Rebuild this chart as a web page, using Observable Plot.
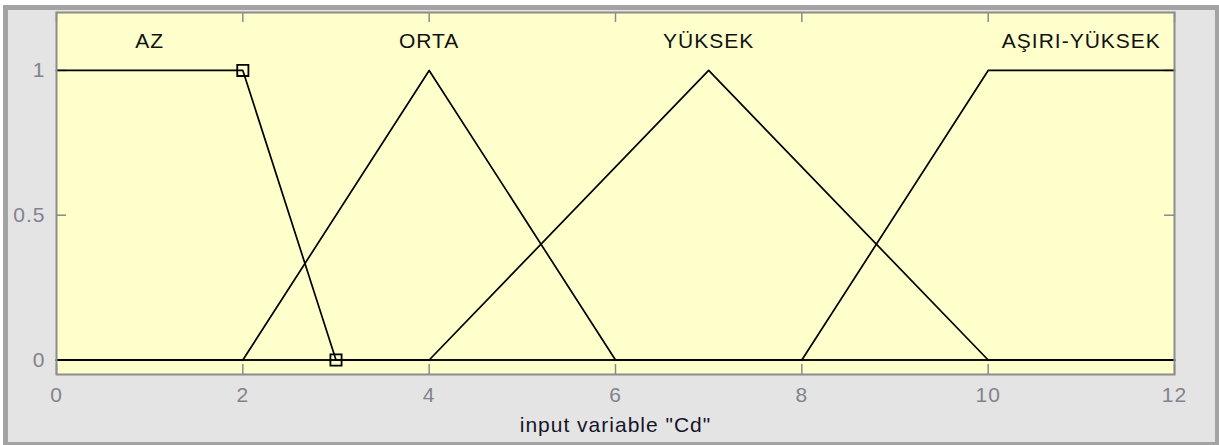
<!DOCTYPE html>
<html>
<head>
<meta charset="utf-8">
<script src="https://cdn.jsdelivr.net/npm/d3@7"></script>
<script src="https://cdn.jsdelivr.net/npm/@observablehq/plot@0.6"></script>
<style>
  html, body { margin: 0; padding: 0; background: #ffffff; }
  #wrap { position: relative; width: 1219px; height: 445px; }
  #panel { position: absolute; left: 3px; top: 5px; width: 1216px; height: 440px;
           box-sizing: border-box; background: #e4e4e4; border: 5px solid #a3a3a3; border-bottom-width: 3px; border-right-width: 4px; }
  #chart { position: absolute; left: 0; top: 0; }
</style>
</head>
<body>
<div id="wrap"><div id="panel"></div><div id="chart"></div></div>
<script>
// ---- data ----
const xTicks = [0, 2, 4, 6, 8, 10, 12];
const yTicks = [0, 0.5, 1];
const mfNames = ["AZ", "ORTA", "YÜKSEK", "AŞIRI-YÜKSEK"];
const mfLabelX = [1, 4, 7, 11];
const mfLabelY = [1.1, 1.1, 1.1, 1.1];
const azX = [0, 2, 3, 12];
const azY = [1, 1, 0, 0];
const ortaX = [0, 2, 4, 6, 12];
const ortaY = [0, 0, 1, 0, 0];
const yuksekX = [0, 4, 7, 10, 12];
const yuksekY = [0, 0, 1, 0, 0];
const asiriX = [0, 8, 10, 12];
const asiriY = [0, 0, 1, 1];
const selectedX = [2, 3];
const selectedY = [1, 0];
const xLabel = 'input variable "Cd"';

// ---- build tables ----
const mfX = [azX, ortaX, yuksekX, asiriX];
const mfY = [azY, ortaY, yuksekY, asiriY];
const lineRows = [];
mfNames.forEach((name, i) => mfX[i].forEach((x, j) => lineRows.push({mf: name, x, y: mfY[i][j]})));
const labelRows = mfNames.map((name, i) => ({name, x: mfLabelX[i], y: mfLabelY[i]}));
const selRows = selectedX.map((x, i) => ({x, y: selectedY[i]}));

const W = 1219, H = 445;
const mL = 56, mR = 45, mT = 12, mB = 71;
const plotW = W - mL - mR, plotH = H - mT - mB;
const tickLen = 10;
const tickColor = "#8a8a8a";

const chart = Plot.plot({
  width: W,
  height: H,
  marginLeft: mL,
  marginRight: mR,
  marginTop: mT,
  marginBottom: mB,
  style: {background: "transparent", fontFamily: "'Liberation Sans', Arial, sans-serif", fontSize: "21px", letterSpacing: "1px", color: "#82828e"},
  x: {domain: [0, 12], label: null},
  y: {domain: [-0.05, 1.2], label: null},
  marks: [
    Plot.frame({fill: "#ffffcc", stroke: null}),
    // inward ticks
    Plot.tickX(xTicks, {x: d => d, stroke: tickColor, strokeWidth: 1.5, insetTop: plotH - tickLen}),
    Plot.tickX(xTicks, {x: d => d, stroke: tickColor, strokeWidth: 1.5, insetBottom: plotH - tickLen}),
    Plot.tickY(yTicks, {y: d => d, stroke: tickColor, strokeWidth: 1.5, insetRight: plotW - tickLen}),
    Plot.tickY(yTicks, {y: d => d, stroke: tickColor, strokeWidth: 1.5, insetLeft: plotW - tickLen}),
    // membership functions
    Plot.line(lineRows, {x: "x", y: "y", z: "mf", stroke: "#000", strokeWidth: 1.7}),
    Plot.dot(selRows, {x: "x", y: "y", symbol: "square", r: 6.3, stroke: "#000", strokeWidth: 1.8, fill: "none"}),
    Plot.text(labelRows, {x: "x", y: "y", text: "name", fill: "#111", fontSize: 21, textAnchor: "middle"}),
    Plot.frame({stroke: "#8c8c8c", strokeWidth: 2}),
    Plot.axisX(xTicks, {anchor: "bottom", tickSize: 0, tickPadding: 13, label: null, fontSize: 21, tickFormat: d => String(d)}),
    Plot.axisY(yTicks, {anchor: "left", tickSize: 0, tickPadding: 11, label: null, fontSize: 21, tickFormat: d => String(d)}),
    Plot.text([xLabel], {frameAnchor: "bottom", text: d => d, dy: 51, fill: "#15152a", fontSize: 21, lineAnchor: "middle"})
  ]
});
document.getElementById("chart").appendChild(chart);
</script>
</body>
</html>
